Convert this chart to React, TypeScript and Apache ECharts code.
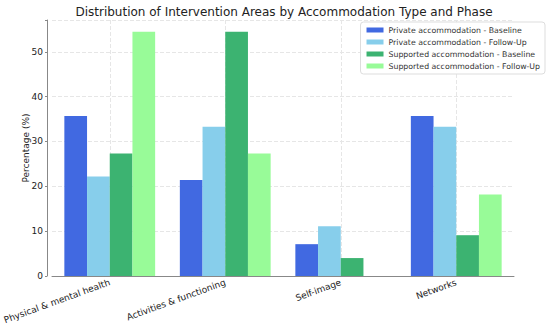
import React, { useEffect, useRef } from "react";
import * as echarts from "echarts";

const categories = ["Physical & mental health", "Activities & functioning", "Self-image", "Networks"];
const seriesNames = [
  "Private accommodation - Baseline",
  "Private accommodation - Follow-Up",
  "Supported accommodation - Baseline",
  "Supported accommodation - Follow-Up",
];
const privateBaseline = [35.7, 21.4, 7.1, 35.7];
const privateFollowUp = [22.2, 33.3, 11.1, 33.3];
const supportedBaseline = [27.3, 54.5, 4.0, 9.1];
const supportedFollowUp = [54.5, 27.3, 0, 18.2];
const colors = ["#4169E1", "#87CEEB", "#3CB371", "#98FB98"];
const yTicks = [0, 10, 20, 30, 40, 50];

export default function App() {
  const ref = useRef<HTMLDivElement>(null);
  useEffect(() => {
    if (!ref.current) return;
    const chart = echarts.init(ref.current, null, { renderer: "svg" });
    const values = [privateBaseline, privateFollowUp, supportedBaseline, supportedFollowUp];
    const font = "DejaVu Sans";
    chart.setOption({
      animation: false,
      textStyle: { fontFamily: font },
      title: {
        text: "Distribution of Intervention Areas by Accommodation Type and Phase",
        left: 279,
        textAlign: "center",
        top: 1,
        textStyle: { fontFamily: font, fontSize: 12, fontWeight: "normal", color: "#222" },
      },
      legend: {
        orient: "vertical",
        right: 5,
        top: 22,
        itemWidth: 17,
        itemHeight: 5,
        itemGap: 4,
        padding: [4, 5, 4, 6],
        borderColor: "#ddd",
        borderWidth: 1,
        borderRadius: 3,
        backgroundColor: "rgba(255,255,255,0.85)",
        icon: "rect",
        textStyle: { fontFamily: font, fontSize: 7.8, color: "#333" },
        data: seriesNames,
      },
      grid: { left: 52, right: 36, top: 20, bottom: 57, outerBoundsMode: "none" },
      xAxis: {
        type: "category",
        data: categories,
        axisLine: { lineStyle: { color: "#888", width: 1 } },
        axisTick: { show: false },
        axisLabel: { rotate: 20, fontFamily: font, fontSize: 9, color: "#222", margin: 6, interval: 0 },
        splitLine: { show: true, alignWithLabel: true, lineStyle: { color: "#e6e6e6", type: "dashed" } },
      },
      yAxis: {
        type: "value",
        min: 0,
        max: 57.1,
        interval: 10,
        offset: 5,
        name: "Percentage (%)",
        nameLocation: "middle",
        nameGap: 17,
        nameMoveOverlap: false,
        nameTextStyle: { fontFamily: font, fontSize: 9, color: "#222" },
        axisLine: { show: true, lineStyle: { color: "#888", width: 1 } },
        axisTick: { show: true, length: 2, lineStyle: { color: "#888" } },
        axisLabel: {
          fontFamily: font,
          fontSize: 9,
          color: "#222",
          margin: 4,
          formatter: (v: number) => (yTicks.includes(v) ? String(v) : ""),
        },
        splitLine: { show: true, lineStyle: { color: "#e6e6e6", type: "dashed" } },
      },
      series: seriesNames.map((name, i) => ({
        name,
        type: "bar",
        data: values[i],
        barWidth: 22.7,
        barGap: "0%",
        itemStyle: { color: colors[i] },
      })),
    });
    return () => chart.dispose();
  }, []);
  return <div ref={ref} style={{ width: 550, height: 333, position: "absolute", left: 0, top: 0 }} />;
}
